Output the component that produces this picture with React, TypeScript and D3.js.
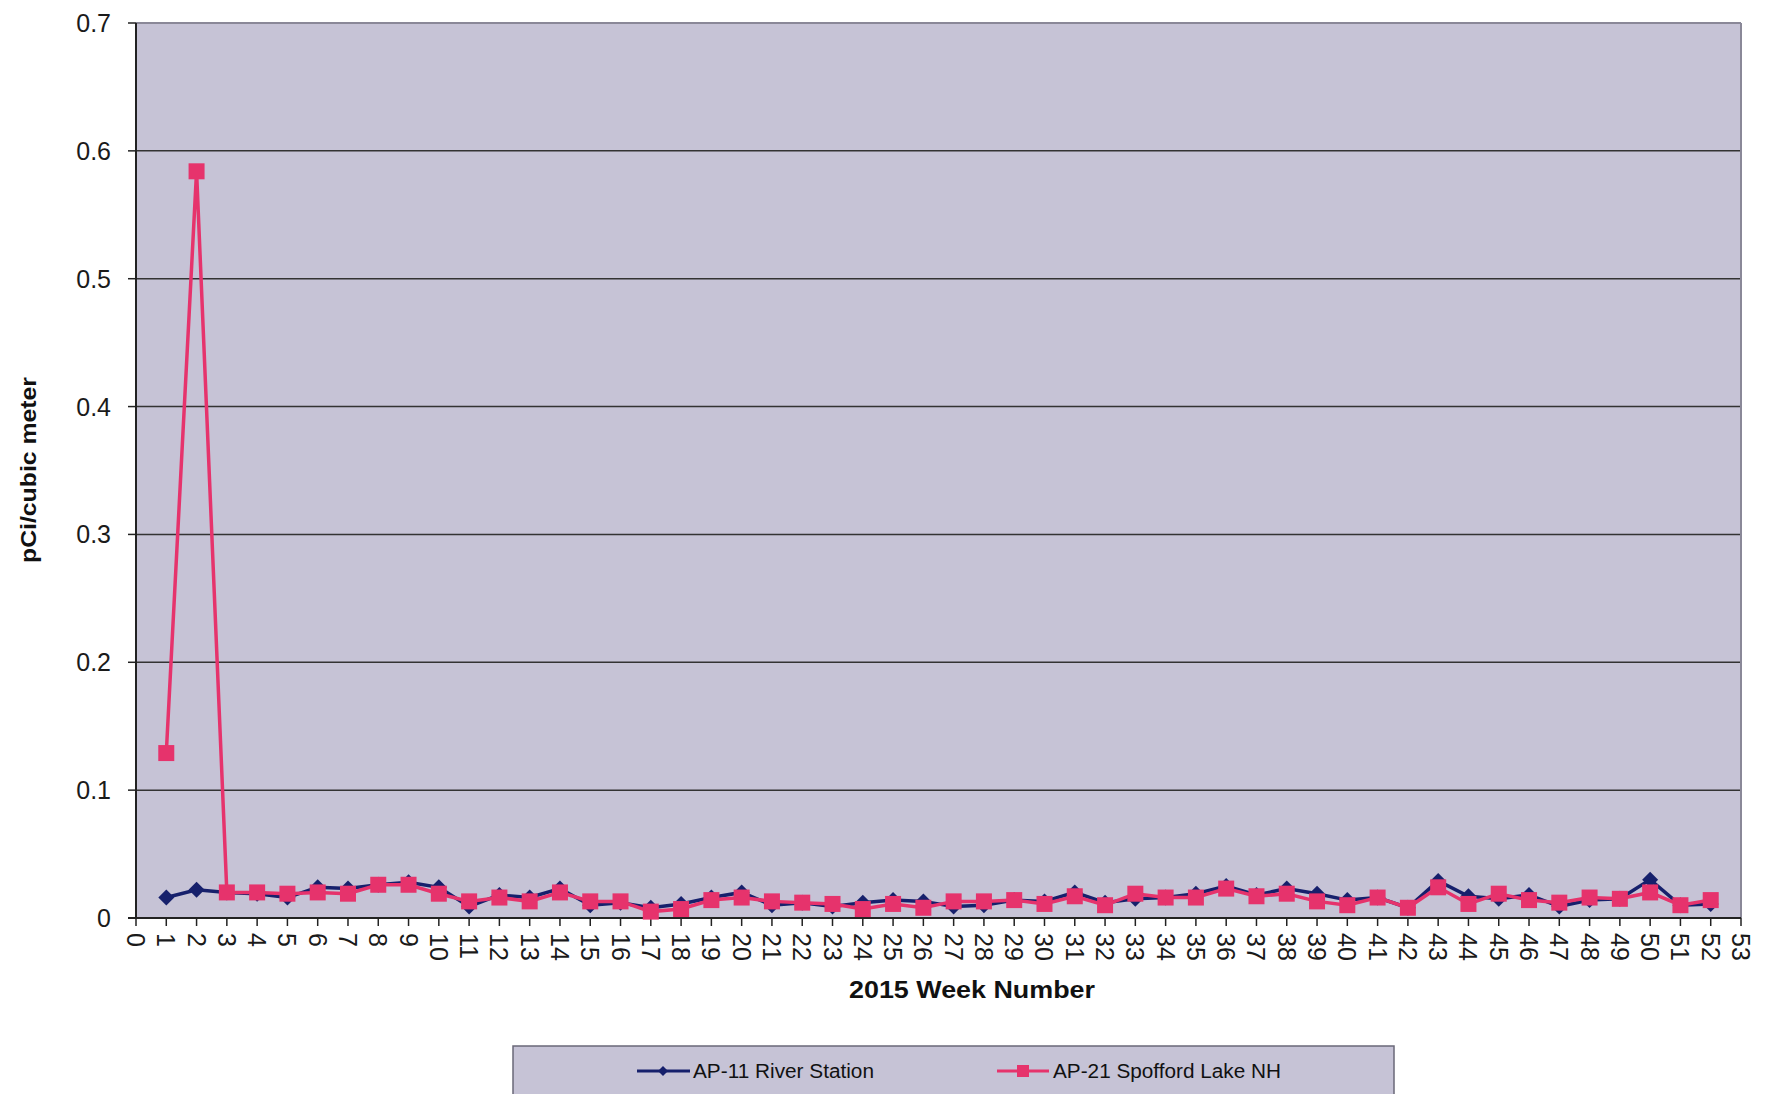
import React, { useEffect } from "react";
import * as d3 from "d3";

const weeks = Array.from({ length: 52 }, (_, i) => i + 1);

const ap11River = [
  0.016, 0.022, 0.020, 0.019, 0.016, 0.024, 0.023, 0.026, 0.028, 0.024,
  0.009, 0.018, 0.016, 0.023, 0.010, 0.012, 0.008, 0.011, 0.016, 0.020,
  0.010, 0.012, 0.009, 0.012, 0.014, 0.013, 0.009, 0.010, 0.014, 0.013,
  0.020, 0.012, 0.015, 0.016, 0.019, 0.025, 0.018, 0.023, 0.019, 0.014,
  0.016, 0.008, 0.029, 0.017, 0.015, 0.018, 0.009, 0.014, 0.015, 0.030,
  0.010, 0.011,
];

const ap21Spofford = [
  0.129, 0.584, 0.020, 0.020, 0.019, 0.020, 0.019, 0.026, 0.026, 0.019,
  0.013, 0.016, 0.013, 0.020, 0.013, 0.013, 0.005, 0.007, 0.014, 0.016,
  0.013, 0.012, 0.011, 0.007, 0.011, 0.008, 0.013, 0.013, 0.014, 0.011,
  0.017, 0.010, 0.019, 0.016, 0.016, 0.023, 0.017, 0.019, 0.013, 0.010,
  0.016, 0.008, 0.024, 0.011, 0.019, 0.014, 0.012, 0.016, 0.015, 0.020,
  0.010, 0.014,
];

const yTicks = [0, 0.1, 0.2, 0.3, 0.4, 0.5, 0.6, 0.7];
const xTicks = Array.from({ length: 54 }, (_, i) => i);

const seriesNames = ["AP-11 River Station", "AP-21 Spofford Lake NH"];
const xTitle = "2015 Week Number";
const yTitle = "pCi/cubic meter";

const W = 1768;
const H = 1094;
const NAVY = "#16206c";
const PINK = "#e6336c";
const BG = "#c6c3d6";
const FONT = "'Liberation Sans', Arial, Helvetica, sans-serif";

export default function App() {
  useEffect(() => {
    document.body.style.margin = "0";
  }, []);

  const x = d3.scaleLinear().domain([0, 53]).range([136, 1741]);
  const y = d3.scaleLinear().domain([0, 0.7]).range([918, 23]);

  const line = d3
    .line<number>()
    .x((_, i) => x(weeks[i]))
    .y((d) => y(d));

  const diamond = (cx: number, cy: number, r: number) =>
    `M${cx},${cy - r}L${cx + r},${cy}L${cx},${cy + r}L${cx - r},${cy}Z`;

  const LY = 1071;

  return (
    <svg
      width={W}
      height={H}
      style={{ position: "absolute", left: 0, top: 0, background: "#fff" }}
      fontFamily={FONT}
    >
      {/* plot background */}
      <rect x={x(0)} y={y(0.7)} width={x(53) - x(0)} height={y(0) - y(0.7)} fill={BG} />

      {/* gridlines */}
      {yTicks
        .filter((t) => t > 0 && t < 0.7)
        .map((t) => (
          <line key={t} x1={x(0)} x2={x(53)} y1={y(t)} y2={y(t)} stroke="#333" strokeWidth={1.5} />
        ))}
      {/* top and right border */}
      <line x1={x(0)} x2={x(53)} y1={y(0.7)} y2={y(0.7)} stroke="#8a8898" strokeWidth={2} />
      <line x1={x(53)} x2={x(53)} y1={y(0.7)} y2={y(0)} stroke="#8a8898" strokeWidth={2} />

      {/* y axis */}
      <line x1={x(0)} x2={x(0)} y1={y(0.7)} y2={y(0)} stroke="#222" strokeWidth={2} />
      {yTicks.map((t) => (
        <g key={t}>
          <line x1={x(0) - 8} x2={x(0)} y1={y(t)} y2={y(t)} stroke="#222" strokeWidth={1.5} />
          <text x={111} y={y(t)} dy="0.36em" textAnchor="end" fontSize={25} fill="#1a1a1a">
            {d3.format("")(t)}
          </text>
        </g>
      ))}

      {/* x axis */}
      <line x1={x(0) - 8} x2={x(53)} y1={y(0)} y2={y(0)} stroke="#222" strokeWidth={2} />
      {xTicks.map((t) => (
        <g key={t}>
          <line x1={x(t)} x2={x(t)} y1={y(0)} y2={y(0) + 8} stroke="#222" strokeWidth={1.5} />
          <text
            transform={`translate(${x(t)},${y(0) + 15}) rotate(90)`}
            dy="0.36em"
            textAnchor="start"
            fontSize={25}
            fill="#1a1a1a"
          >
            {t}
          </text>
        </g>
      ))}

      {/* axis titles */}
      <text
        x={972}
        y={998}
        textAnchor="middle"
        fontSize={23}
        fontWeight="bold"
        fill="#111"
        textLength={246}
        lengthAdjust="spacingAndGlyphs"
      >
        {xTitle}
      </text>
      <text
        transform="translate(36,470) rotate(-90)"
        textAnchor="middle"
        fontSize={22}
        fontWeight="bold"
        fill="#111"
        textLength={186}
        lengthAdjust="spacingAndGlyphs"
      >
        {yTitle}
      </text>

      {/* series lines */}
      <path d={line(ap11River) || ""} fill="none" stroke={NAVY} strokeWidth={3.5} />
      {ap11River.map((v, i) => (
        <path key={"n" + i} d={diamond(x(weeks[i]), y(v), 8)} fill={NAVY} />
      ))}
      <path d={line(ap21Spofford) || ""} fill="none" stroke={PINK} strokeWidth={3.5} />
      {ap21Spofford.map((v, i) => (
        <rect key={"p" + i} x={x(weeks[i]) - 8} y={y(v) - 8} width={16} height={16} fill={PINK} />
      ))}

      {/* legend */}
      <rect x={513} y={1046} width={881} height={70} fill={BG} stroke="#6a6878" strokeWidth={1.5} />
      <line x1={637} x2={690} y1={LY} y2={LY} stroke={NAVY} strokeWidth={3} />
      <path d={diamond(663, LY, 5)} fill={NAVY} />
      <text
        x={693}
        y={LY}
        dy="0.36em"
        fontSize={20}
        fill="#111"
        textLength={181}
        lengthAdjust="spacingAndGlyphs"
      >
        {seriesNames[0]}
      </text>
      <line x1={997} x2={1049} y1={LY} y2={LY} stroke={PINK} strokeWidth={3} />
      <rect x={1017} y={LY - 6} width={12} height={12} fill={PINK} />
      <text
        x={1053}
        y={LY}
        dy="0.36em"
        fontSize={20}
        fill="#111"
        textLength={228}
        lengthAdjust="spacingAndGlyphs"
      >
        {seriesNames[1]}
      </text>
    </svg>
  );
}
